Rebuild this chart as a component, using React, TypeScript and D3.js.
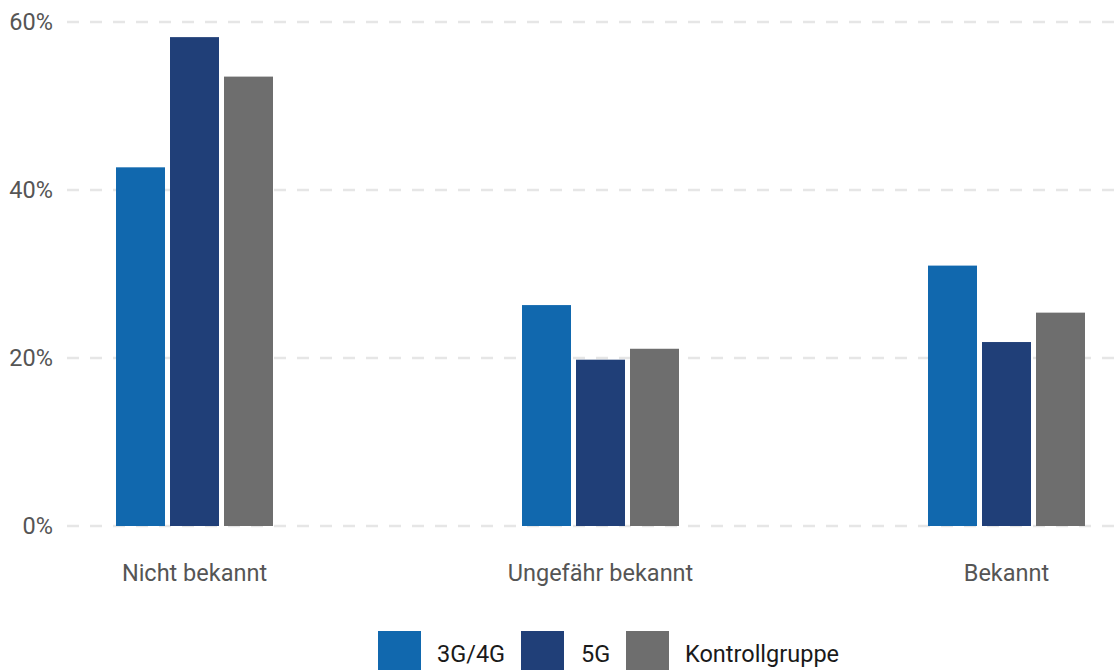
import React from "react";
import * as d3 from "d3";

const categories = ["Nicht bekannt", "Ungefähr bekannt", "Bekannt"];
const seriesNames = ["3G/4G", "5G", "Kontrollgruppe"];
const values3G4G = [42.7, 26.3, 31.0];
const values5G = [58.2, 19.8, 21.9];
const valuesKontroll = [53.5, 21.1, 25.4];
const yTicks = [0, 20, 40, 60];
const colors = ["#1168ae", "#203f78", "#6e6e6e"];

const W = 1117;
const H = 670;

export default function App() {
  const seriesValues = [values3G4G, values5G, valuesKontroll];
  const y = d3.scaleLinear().domain([0, 60]).range([526, 22]);
  const x0 = d3
    .scaleBand<string>()
    .domain(categories)
    .range([67, 1134])
    .paddingInner(249 / 406)
    .paddingOuter(49 / 406);
  const x1 = d3
    .scaleBand<string>()
    .domain(seriesNames)
    .range([0, x0.bandwidth()])
    .paddingInner(5 / 54)
    .paddingOuter(0);

  const legendX = [378, 521, 626];
  const legendTextX = [437, 581, 685];
  const fs = 23.5;

  return (
    <svg
      width={W}
      height={H}
      style={{ position: "absolute", left: 0, top: 0, fontFamily: "Roboto, sans-serif" }}
    >
      <rect width={W} height={H} fill="#fff" />
      {yTicks.map((t) => (
        <g key={t}>
          <line
            x1={67}
            x2={W}
            y1={y(t)}
            y2={y(t)}
            stroke="#e6e6e6"
            strokeWidth={2.5}
            strokeDasharray="12 11"
          />
          <text
            x={53}
            y={y(t)}
            dy="0.36em"
            textAnchor="end"
            fontSize={fs}
            fill="#555"
          >
            {t}%
          </text>
        </g>
      ))}
      {categories.map((c, ci) => (
        <g key={c} transform={`translate(${x0(c)},0)`}>
          {seriesNames.map((s, si) => (
            <rect
              key={s}
              x={x1(s)}
              y={y(seriesValues[si][ci])}
              width={x1.bandwidth()}
              height={y(0) - y(seriesValues[si][ci])}
              fill={colors[si]}
            />
          ))}
          <text
            x={x0.bandwidth() / 2}
            y={581}
            textAnchor="middle"
            fontSize={fs}
            fill="#555"
          >
            {c}
          </text>
        </g>
      ))}
      {seriesNames.map((s, i) => (
        <g key={s}>
          <rect x={legendX[i]} y={631} width={43} height={43} fill={colors[i]} />
          <text x={legendTextX[i]} y={662} fontSize={fs} fill="#1a1a1a">
            {s}
          </text>
        </g>
      ))}
    </svg>
  );
}
